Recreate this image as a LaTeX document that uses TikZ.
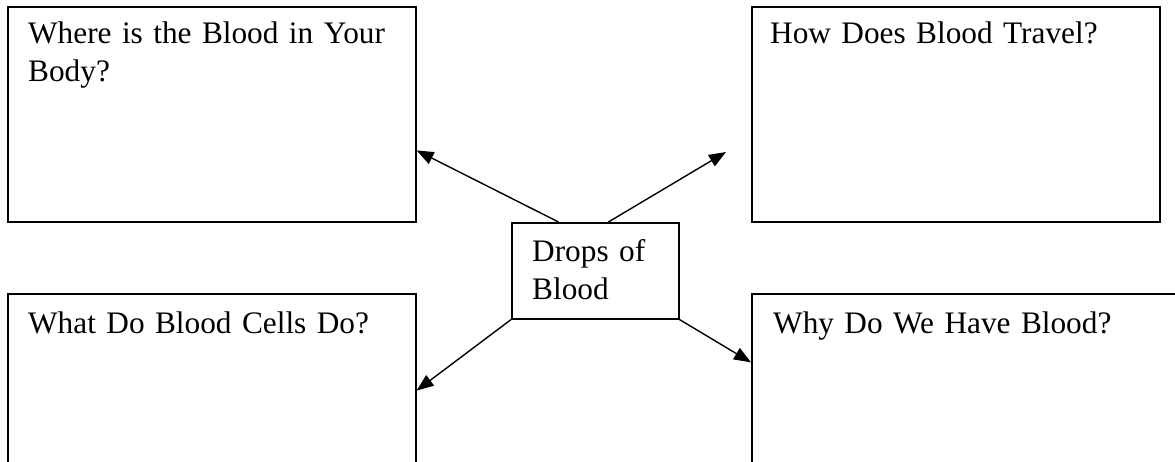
\documentclass[tikz,border=0pt]{standalone}
\usepackage{fontspec}
\setmainfont{Liberation Serif}
\usetikzlibrary{arrows.meta,positioning}

\begin{document}
\begin{tikzpicture}[
        x=1pt, y=-1pt,
        topic/.style={draw=black, line width=1.6pt, minimum width=408pt, minimum height=215pt, inner sep=0pt, anchor=north west},
        hub/.style={draw=black, line width=1.6pt, minimum width=167pt, minimum height=96pt, inner sep=0pt, anchor=north west},
        qtext/.style={anchor=base west, inner sep=0pt, align=left, text width=385pt, font=\fontsize{31.3}{38}\selectfont},
        link/.style={line width=1.4pt, -{Triangle[length=17pt,width=13pt]}}
    ]
        \useasboundingbox (0,0) rectangle (1175,461);

        % Boxes
        \node[topic] (where) at (7,6) {};
        \node[topic] (travel) at (751,6) {};
        \node[hub] (drops) at (511,222) {};
        \node[topic] (cells) at (7,293) {};
        \node[topic, minimum width=440pt] (why) at (751,293) {};

        % Texts
        \node[qtext] (wheretxt) at (28,43) {Where is the Blood in Your\\Body?};
        \node[qtext] (traveltxt) at (770,43) {How Does Blood Travel?};
        \node[qtext, text width=140pt] (dropstxt) at (532,261) {Drops of\\Blood};
        \node[qtext] (cellstxt) at (28,333) {What Do Blood Cells Do?};
        \node[qtext] (whytxt) at (773,333) {Why Do We Have Blood?};

        % Arrows
        \coordinate (travelin) at (726,152);
        \draw[link] (drops.127) -- (where.-10.7);
        \draw[link] (drops.75) -- (travelin);
        \draw[link] (drops.south west) -- (cells.3.8);
        \draw[link] (drops.south east) -- (why.170.3);
    \end{tikzpicture}
\end{document}
